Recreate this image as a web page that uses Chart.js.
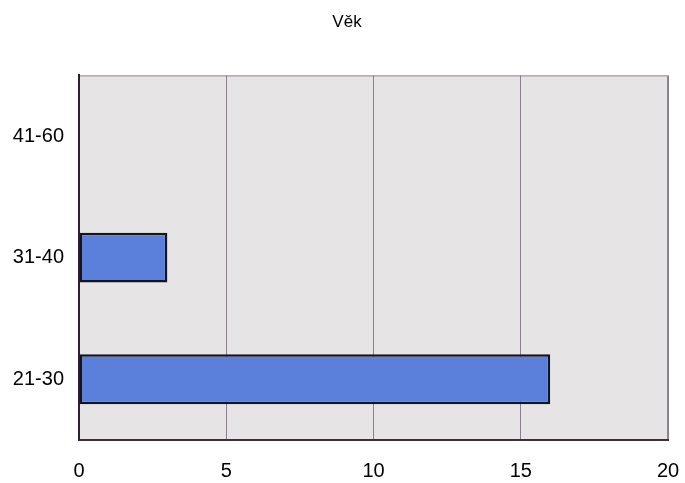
<!DOCTYPE html>
<html>
<head>
<meta charset="utf-8">
<script src="https://cdn.jsdelivr.net/npm/chart.js@4/dist/chart.umd.min.js"></script>
<style>
  html, body { margin: 0; padding: 0; background: #fff; }
  canvas { display: block; }
</style>
</head>
<body>
<canvas id="chart" width="685" height="483"></canvas>
<script>
// Age groups, top to bottom
const ageGroups = ['41-60', '31-40', '21-30'];
const counts = [0, 3, 16];
const xTicks = [0, 5, 10, 15, 20];

// Grey plot background with a thin frame, drawn under the bars
const plotBackground = {
    id: 'plotBackground',
    beforeDraw(chart) {
        const { ctx, chartArea: a } = chart;
        ctx.save();
        ctx.fillStyle = '#e7e4e5';
        ctx.fillRect(a.left, a.top, a.right - a.left, a.bottom - a.top);
        ctx.strokeStyle = '#8e8690';
        ctx.lineWidth = 1;
        ctx.strokeRect(a.left + 0.5, a.top + 0.5, a.right - a.left - 1, a.bottom - a.top - 1);
        ctx.restore();
    }
};

const tickFont = { family: 'Liberation Sans, Arial, sans-serif', size: 20 };

const ctx = document.getElementById('chart').getContext('2d');
new Chart(ctx, {
    type: 'bar',
    data: {
        labels: ageGroups,
        datasets: [{
            data: counts,
            backgroundColor: '#5b80dc',
            borderColor: '#141420',
            borderWidth: 2.5,
            borderSkipped: false,
            barPercentage: 0.82,
            categoryPercentage: 0.5
        }]
    },
    options: {
        indexAxis: 'y',
        responsive: false,
        animation: false,
        layout: { padding: { left: 9, right: 0, top: 0, bottom: 0 } },
        plugins: {
            legend: { display: false },
            tooltip: { enabled: false },
            title: {
                display: true,
                text: 'Věk',
                color: '#000',
                font: { family: 'Liberation Sans, Arial, sans-serif', size: 17, weight: 'normal' },
                padding: { top: 12, bottom: 43 }
            }
        },
        scales: {
            x: {
                min: 0,
                max: 20,
                afterBuildTicks(scale) {
                    scale.ticks = xTicks.map(v => ({ value: v }));
                },
                afterFit(scale) {
                    scale.height = 43;
                    scale.paddingLeft = 0;
                    scale.paddingRight = 17;
                },
                grid: { color: '#8a8090', lineWidth: 1, drawTicks: false },
                border: { display: true, color: '#3a3038', width: 2 },
                ticks: { color: '#000', padding: 19, font: tickFont }
            },
            y: {
                afterFit(scale) { scale.width = 70; },
                grid: { display: false, drawTicks: false },
                border: { display: true, color: '#2a2030', width: 2 },
                ticks: { color: '#000', padding: 15, font: tickFont }
            }
        }
    },
    plugins: [plotBackground]
});
</script>
</body>
</html>
